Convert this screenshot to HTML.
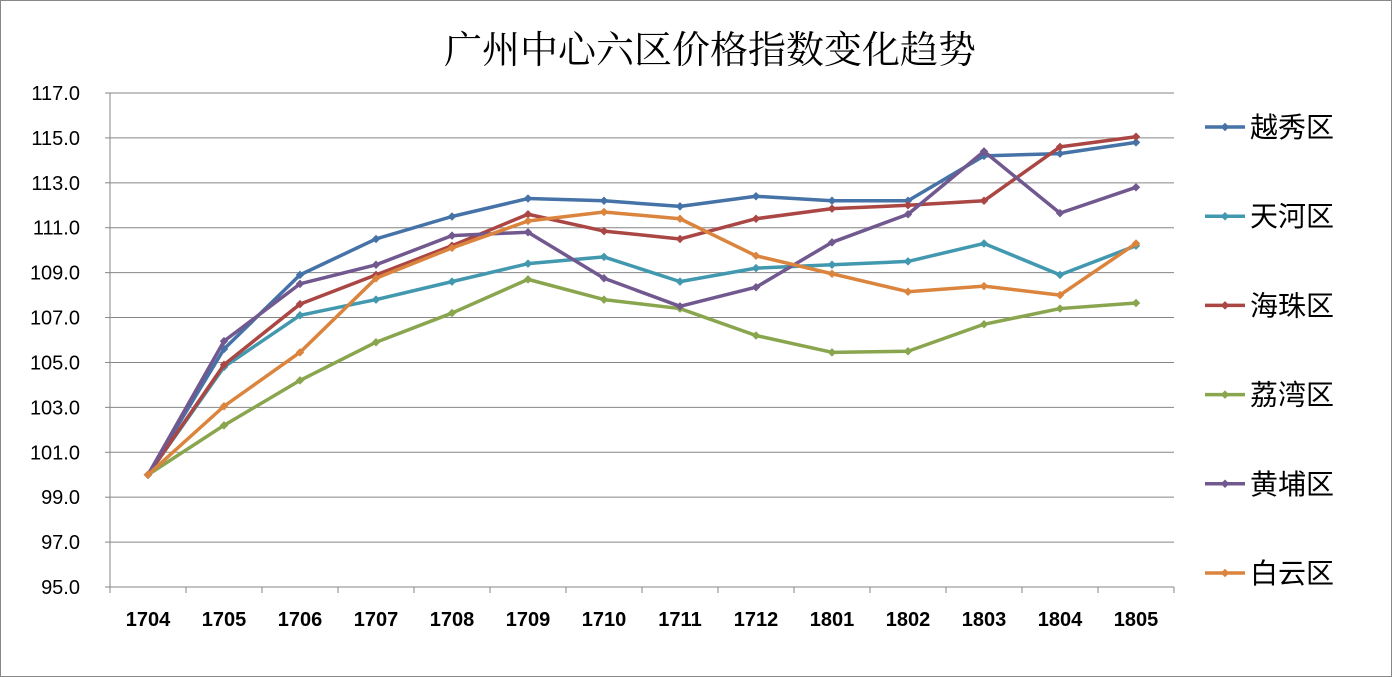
<!DOCTYPE html>
<html><head><meta charset="utf-8"><style>
html,body{margin:0;padding:0;background:#fff;}
svg{display:block;font-family:"Liberation Sans","Noto Sans CJK SC",sans-serif;}
</style></head><body>
<svg id="chart" width="1392" height="677">
<rect x="0.5" y="0.5" width="1391" height="676" fill="#fff" stroke="#888"/>
<text x="710" y="63" text-anchor="middle" font-size="38" font-family="'Noto Serif CJK SC','Noto Sans CJK SC',serif">广州中心六区价格指数变化趋势</text>
<g id="grid"></g><g id="axes"></g><g id="series"></g><g id="legend"></g>
</svg>
<script>
const categories=["1704","1705","1706","1707","1708","1709","1710","1711","1712","1801","1802","1803","1804","1805"];
const yTicks=[95,97,99,101,103,105,107,109,111,113,115,117];
const seriesNames=["越秀区","天河区","海珠区","荔湾区","黄埔区","白云区"];
const seriesColors=["#4572A7","#4198AF","#AA4643","#89A54E","#71588F","#DB843D"];
const yuexiu=[100.0,105.6,108.9,110.5,111.5,112.3,112.2,111.95,112.4,112.2,112.2,114.2,114.3,114.8];
const tianhe=[100.0,104.8,107.1,107.8,108.6,109.4,109.7,108.6,109.2,109.35,109.5,110.3,108.9,110.2];
const haizhu=[100.0,104.9,107.6,108.9,110.2,111.6,110.85,110.5,111.4,111.85,112.0,112.2,114.6,115.05];
const liwan=[100.0,102.2,104.2,105.9,107.2,108.7,107.8,107.4,106.2,105.45,105.5,106.7,107.4,107.65];
const huangpu=[100.0,105.95,108.5,109.35,110.65,110.8,108.75,107.5,108.35,110.35,111.6,114.4,111.65,112.8];
const baiyun=[100.0,103.05,105.45,108.75,110.1,111.3,111.7,111.4,109.75,108.95,108.15,108.4,108.0,110.3];
const seriesData=[yuexiu,tianhe,haizhu,liwan,huangpu,baiyun];
const NS="http://www.w3.org/2000/svg";
const L=110,R=1174,T=93,B=587,yMin=95,yMax=117;
const bw=(R-L)/categories.length;
function x(i){return L+bw*(i+0.5);}
function y(v){return B-(v-yMin)/(yMax-yMin)*(B-T);}
function mk(t,a,p){const e=document.createElementNS(NS,t);for(const k in a)e.setAttribute(k,a[k]);p.appendChild(e);return e;}
const grid=document.getElementById('grid'),axes=document.getElementById('axes'),ser=document.getElementById('series'),leg=document.getElementById('legend');
yTicks.forEach(v=>{
 const g=mk('line',{x1:L,x2:R,y1:y(v),y2:y(v),stroke:'#868686','stroke-width':1},grid);
 
 
 const tk=mk('line',{x1:L-5,x2:L,y1:y(v),y2:y(v),stroke:'#868686'},axes);
 
 
 const t=mk('text',{x:L-30,y:y(v)+7,'text-anchor':'end','font-size':20},axes);
 t.textContent=v.toFixed(1);
 
 
});
const ya=mk('line',{x1:L,x2:L,y1:T,y2:B,stroke:'#868686'},axes);


categories.forEach((c,i)=>{
 const tk=mk('line',{x1:L+bw*(i+1),x2:L+bw*(i+1),y1:B,y2:B+6,stroke:'#868686'},axes);
 
 
 const t=mk('text',{x:x(i),y:B+39,'text-anchor':'middle','font-size':20,'font-weight':'bold'},axes);
 t.textContent=c;
 
 
});
const t0=mk('line',{x1:L,x2:L,y1:B,y2:B+6,stroke:'#868686'},axes);


seriesData.forEach((d,s)=>{
 const col=seriesColors[s];
 const g=mk('g',{},ser);
 
 
 const pl=mk('polyline',{points:d.map((v,i)=>x(i)+','+y(v)).join(' '),fill:'none',stroke:col,'stroke-width':3.5,'stroke-linejoin':'round'},g);
 
 
 d.forEach((v,i)=>{
  const m=mk('rect',{x:x(i)-3,y:y(v)-3,width:6,height:6,fill:col,transform:'rotate(45 '+x(i)+' '+y(v)+')'},g);
  
  
 });
 const ly=127+s*89.2;
 const lg=mk('g',{},leg);
 
 
 mk('line',{x1:1205,x2:1245,y1:ly,y2:ly,stroke:col,'stroke-width':3.5},lg);
 mk('rect',{x:1222,y:ly-3,width:6,height:6,fill:col,transform:'rotate(45 1225 '+ly+')'},lg);
 const lt=mk('text',{x:1250,y:ly+10,'font-size':28},lg);
 lt.textContent=seriesNames[s];
});
</script>
</body></html>
